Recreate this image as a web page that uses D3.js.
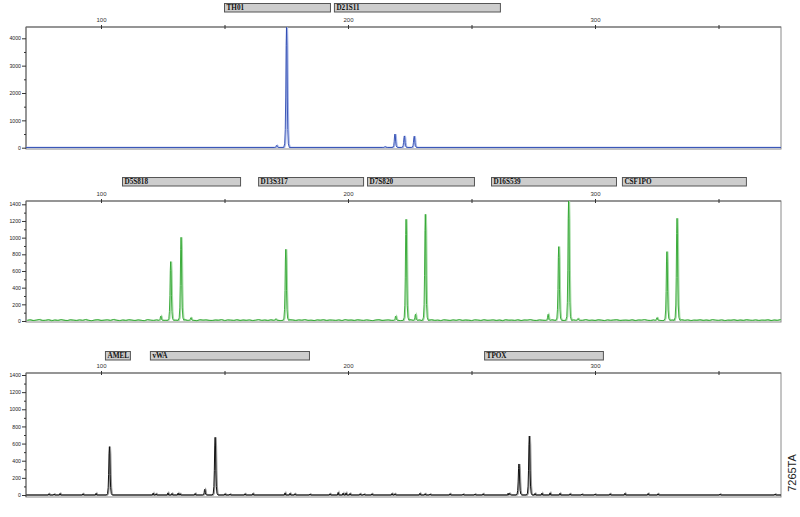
<!DOCTYPE html>
<html><head><meta charset="utf-8">
<script src="https://cdn.jsdelivr.net/npm/d3@7"></script>
<style>body{margin:0;background:#fff}svg{display:block}</style>
</head><body>
<svg id="c" width="800" height="517"></svg>
<script>
// ---------- DATA ----------
const xTickValues = [100, 150, 200, 250, 300, 350];
const xTickLabels = ["100", "", "200", "", "300", ""];

const blueYTicks = [0, 1000, 2000, 3000, 4000];
const blueYMinor = [500, 1500, 2500, 3500];
const greenYTicks = [0, 200, 400, 600, 800, 1000, 1200, 1400];
const greenYMinor = [100, 300, 500, 700, 900, 1100, 1300];

const blueMarkers = ["TH01", "D21S11"];
const blueMarkerRanges = [[149.8, 192.7], [194.3, 261.5]];
const greenMarkers = ["D5S818", "D13S317", "D7S820", "D16S539", "CSF1PO"];
const greenMarkerRanges = [[108.5, 156.3], [163.6, 206.1], [207.7, 251.0], [257.9, 308.5], [310.9, 361.1]];
const blackMarkers = ["AMEL", "vWA", "TPOX"];
const blackMarkerRanges = [[101.6, 111.7], [119.8, 184.2], [255.1, 303.2]];

// peaks: [size (bp), height (RFU)]
const bluePeaks = [[171.1, 90], [175.1, 4400], [215.0, 40], [219.0, 500], [222.8, 430], [226.8, 420]];
const greenPeaks = [[124.2, 60], [128.2, 712], [132.4, 1004], [136.4, 40], [170.7, 25], [174.8, 860],
  [219.3, 60], [223.5, 1220], [227.3, 80], [231.3, 1280], [281.0, 80], [285.3, 892], [289.3, 1440],
  [293.1, 30], [325.1, 40], [329.1, 832], [333.2, 1232]];
const blackPeaks = [[103.4, 564], [142.0, 66], [146.2, 673], [265.3, 20], [269.2, 362], [273.4, 688]];

// baseline noise of green trace, one value every 1.25 bp from 70 bp
const greenNoiseStart = 70;
const greenNoise = [8,14,5,11,17,6,9,15,4,12,7,16,9,5,14,10,6,13,8,17,7,4,12,15,6,10,14,7,18,9,
  5,12,7,15,10,6,13,8,4,16,10,7,13,6,12,8,15,5,10,13,7,16,6,12,9,4,15,10,13,7,
  6,12,9,16,5,13,10,7,15,6,12,8,13,5,10,16,7,12,6,14,9,13,5,10,7,15,12,6,13,9,
  16,7,10,5,13,9,15,6,12,10,7,13,5,16,9,12,6,14,10,7,13,8,5,12,15,6,10,13,7,9,
  11,5,14,8,16,6,10,13,4,12,9,15,7,11,5,14,10,6,13,8,16,7,12,9,5,14,11,6,15,8,
  10,13,6,12,4,15,9,11,7,14,5,12,10,16,8,6,13,9,12,5,15,7,11,14,6,10,8,13,5,12,
  9,16,7,11,6,14,10,5,13,8,12,15,6,9,11,7,14,5,12,10,16,8,6,13,9,11,5,14,7,12,
  10,6,15,8,13,5,11,9,14,7,12,6,16,10,8,13,5,11,9,14,6,12,7,15,10,8,13,6,11,9,
  14,5,12,8,16,7,10,13,6,11,9,15];

// small baseline blips of black trace: [size (bp), height]
const blackNoise = [[78.9,15],[81.0,12],[83.4,18],[92.7,15],[98.0,20],[121.1,22],[122.3,15],[127.1,25],
  [128.7,18],[131.2,22],[132.0,15],[138.1,18],[150.2,15],[152.2,12],[158.3,15],[161.5,18],[174.5,25],
  [176.5,20],[178.5,15],[184.6,12],[192.7,15],[196.0,30],[198.0,22],[199.2,25],[200.8,18],[204.9,15],
  [206.5,12],[209.7,15],[217.8,18],[219.0,15],[229.1,20],[231.2,15],[233.2,12],[241.3,15],[246.6,12],
  [251.4,12],[254.7,15],[264.8,20],[275.7,18],[278.5,22],[281.8,25],[285.8,20],[289.9,15],[294.7,12],
  [300.0,12],[306.1,15],[312.1,20],[321.5,18],[325.5,15],[350.6,12],[372.9,12]];

const figureCode = "7265TA";

// ---------- LAYOUT ----------
const svg = d3.select("#c");
const left = 26, right = 781;
const x = d3.scaleLinear().domain([100, 300]).range([101, 595]);

const panels = [
  {top: 27, bottom: 149, y0: 147.7, yRef: 38.3, ref: 4000, ticks: blueYTicks, minor: blueYMinor,
   markers: blueMarkers, ranges: blueMarkerRanges, barTop: 3, peaks: bluePeaks,
   dark: "#2b48b0", light: "#a9b8ea", baseline: 8},
  {top: 201, bottom: 322, y0: 321, yRef: 204.3, ref: 1400, ticks: greenYTicks, minor: greenYMinor,
   markers: greenMarkers, ranges: greenMarkerRanges, barTop: 177, peaks: greenPeaks,
   dark: "#2ea52e", light: "#a6dca6", baseline: null},
  {top: 373, bottom: 497, y0: 495, yRef: 375, ref: 1400, ticks: greenYTicks, minor: greenYMinor,
   markers: blackMarkers, ranges: blackMarkerRanges, barTop: 351, peaks: blackPeaks,
   dark: "#111", light: "#9a9a9a", baseline: 0}
];

const peakShape = [[-1.15,0],[-0.75,0.03],[-0.5,0.15],[-0.32,0.42],[-0.15,0.85],[0,1],[0.15,0.85],[0.32,0.42],[0.5,0.15],[0.75,0.03],[1.15,0]];
const blipShape = [[-0.3,0],[0,1],[0.3,0]];

panels.forEach((p, i) => {
  const y = d3.scaleLinear().domain([0, p.ref]).range([p.y0, p.yRef]);
  const g = svg.append("g");
  const clipId = "clip" + i;
  svg.append("clipPath").attr("id", clipId).append("rect")
    .attr("x", left).attr("y", p.top).attr("width", right - left).attr("height", p.bottom - p.top);

  // frame
  g.append("rect").attr("x", left).attr("y", p.top).attr("width", right - left).attr("height", p.bottom - p.top)
    .attr("fill", "none").attr("stroke", "#8a8a8a").attr("stroke-width", 1);
  g.append("line").attr("x1", left).attr("x2", right).attr("y1", p.top).attr("y2", p.top)
    .attr("stroke", "#666").attr("stroke-width", 1);
  g.append("line").attr("x1", left).attr("x2", left).attr("y1", p.top).attr("y2", p.bottom)
    .attr("stroke", "#666").attr("stroke-width", 1);

  // y axis
  const ya = g.append("g").attr("transform", `translate(${left},0)`)
    .call(d3.axisLeft(y).tickValues(p.ticks).tickSize(4).tickPadding(1).tickFormat(d3.format("d")));
  ya.select(".domain").remove();
  ya.selectAll("line").attr("stroke", "#333");
  ya.selectAll("text").attr("font-family", "Liberation Sans, Arial, sans-serif").attr("font-size", 5.2).attr("fill", "#222");
  const ym = g.append("g").attr("transform", `translate(${left},0)`)
    .call(d3.axisLeft(y).tickValues(p.minor).tickSize(2).tickFormat(""));
  ym.select(".domain").remove();
  ym.selectAll("line").attr("stroke", "#333");

  // x axis at top
  const xa = g.append("g").attr("transform", `translate(0,${p.top})`)
    .call(d3.axisTop(x).tickValues(xTickValues).tickSize(2).tickPadding(3)
      .tickFormat((d, k) => xTickLabels[k]));
  xa.select(".domain").remove();
  xa.selectAll("line").attr("y1", -2).attr("y2", 2).attr("stroke", "#333");
  xa.selectAll("text").attr("font-family", "Liberation Sans, Arial, sans-serif").attr("font-size", 6).attr("fill", "#333");

  // marker bars
  p.markers.forEach((m, k) => {
    const r = p.ranges[k];
    g.append("rect").attr("x", x(r[0]) + 0.5).attr("y", p.barTop + 0.5)
      .attr("width", x(r[1]) - x(r[0])).attr("height", 8.5)
      .attr("fill", "#cdcdcd").attr("stroke", "#555").attr("stroke-width", 1);
    g.append("text").attr("x", x(r[0]) + 2.5).attr("y", p.barTop + 7.3)
      .attr("font-family", "Liberation Serif, Times New Roman, serif").attr("font-weight", "bold")
      .attr("font-size", 7.2).attr("fill", "#111").text(m);
  });

  // trace
  const tg = g.append("g").attr("clip-path", `url(#${clipId})`);
  let pts = [];
  if (i === 1) {
    greenNoise.forEach((v, k) => {
      const bp = greenNoiseStart + k * 1.25;
      if (!p.peaks.some(q => Math.abs(q[0] - bp) < 1.3)) pts.push([bp, v]);
    });
  } else {
    pts.push([66, p.baseline]);
    pts.push([380, p.baseline]);
  }
  const base = i === 1 ? 8 : p.baseline;
  p.peaks.forEach(q => peakShape.forEach(s => pts.push([q[0] + s[0] * (q[1] > 200 ? 1 : 0.8), base + s[1] * (q[1] - base)])));
  if (i === 2) blackNoise.forEach(q => blipShape.forEach(s => pts.push([q[0] + s[0], s[1] * q[1]])));
  pts.sort((a, b) => a[0] - b[0]);

  const line = d3.line().x(d => x(d[0])).y(d => y(d[1]));
  tg.append("path").attr("d", line(pts)).attr("fill", "none").attr("stroke", p.light)
    .attr("stroke-width", 1.4).attr("transform", "translate(0.9,0)");
  tg.append("path").attr("d", line(pts)).attr("fill", "none").attr("stroke", p.dark)
    .attr("stroke-width", i === 2 ? 1 : 0.9);
});

// figure code
svg.append("text").attr("transform", "translate(796,473) rotate(-90)")
  .attr("text-anchor", "middle").attr("font-family", "Liberation Sans, Arial, sans-serif")
  .attr("font-size", 11).attr("fill", "#222").text(figureCode);
</script>
</body></html>
